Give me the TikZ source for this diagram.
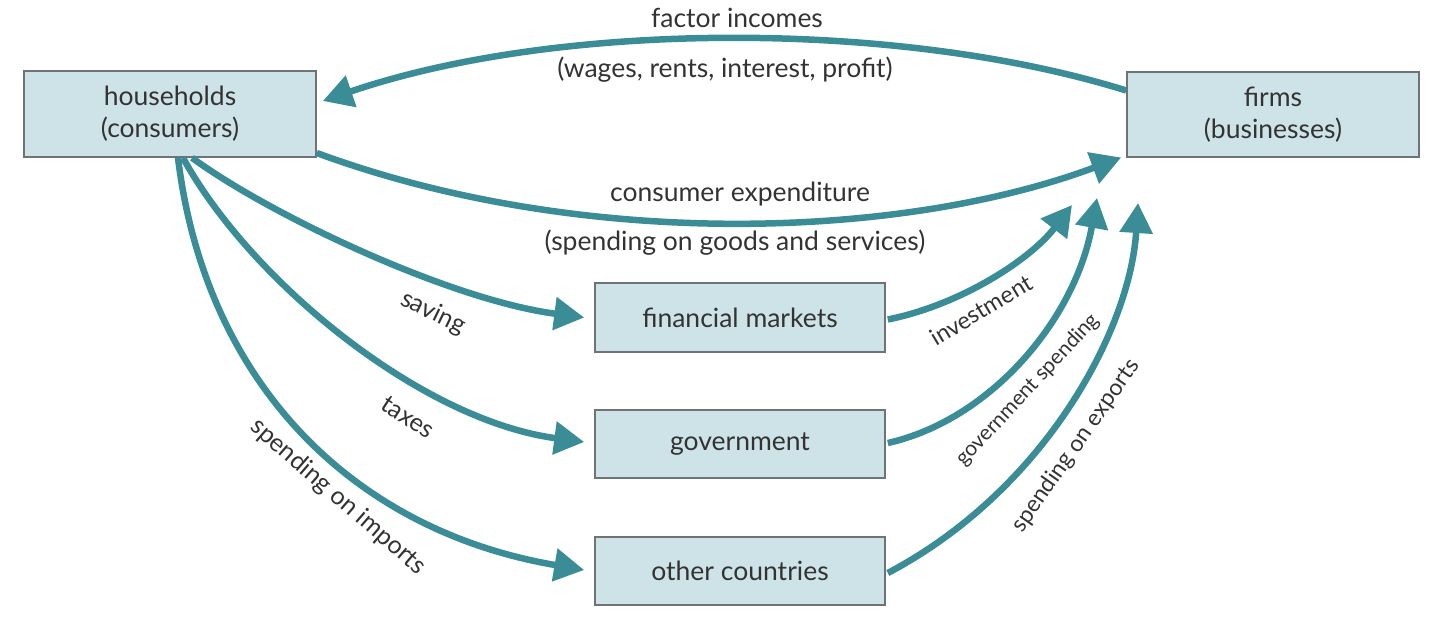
\documentclass[tikz,border=0pt]{standalone}
\usepackage{fontspec}
\setmainfont{Lato}
\usetikzlibrary{arrows.meta,calc}
\definecolor{teal1}{HTML}{3A8C96}
\definecolor{boxfill}{HTML}{CDE3E8}
\definecolor{boxline}{HTML}{6E7376}
\definecolor{txt}{HTML}{333333}
\begin{document}
\begin{tikzpicture}[x=1pt,y=-1pt,
  box/.style={draw=boxline,line width=1.6pt,fill=boxfill,inner sep=0pt,align=center,text=txt,font=\fontsize{26.5}{32}\selectfont},
  lab/.style={text=txt,font=\fontsize{26.5}{30}\selectfont,inner sep=0pt},
  slab/.style={text=txt,font=\fontsize{25}{30}\selectfont,inner sep=0pt},
  flow/.style={draw=teal1,line width=6.5pt,-{Triangle[length=30pt,width=32pt]}}]
\useasboundingbox (0,0) rectangle (1440,633);
\node[box,minimum width=292pt,minimum height=86pt] (hh) at (170,114) {households\\(consumers)};
\node[box,minimum width=292pt,minimum height=85pt] (firms) at (1273,114.5) {firms\\(businesses)};
\node[box,minimum width=290pt,minimum height=69pt] (fm) at (740,317.5) {financial markets};
\node[box,minimum width=290pt,minimum height=68pt] (gov) at (740,444) {government};
\node[box,minimum width=290pt,minimum height=68pt] (oc) at (740,571) {other countries};
\coordinate (tinv) at (1072,205);
\coordinate (tgov) at (1097,198);
\coordinate (texp) at (1138,203);
% flows
\draw[flow] ($(firms.west)+(0,-24)$) .. controls (900,20) and (560,20) .. ($(hh.east)+(6,-13)$);
\draw[flow] ($(hh.east)+(0,39)$) .. controls (580,250) and (900,240) .. ($(firms.west)+(-5,43)$);
\draw[flow] ($(hh.south)+(22,0)$) .. controls (270,215) and (450,300) .. ($(fm.west)+(-10,0)$);
\draw[flow] ($(hh.south)+(13,0)$) .. controls (250,280) and (420,420) .. ($(gov.west)+(-10,-2)$);
\draw[flow] ($(hh.south)+(8,0)$) .. controls (205,380) and (350,530) .. ($(oc.west)+(-10,-1)$);
\draw[flow] ($(fm.east)+(2,2)$) .. controls (960,305) and (1030,260) .. (tinv);
\draw[flow] ($(gov.east)+(2,-1)$) .. controls (990,420) and (1075,320) .. (tgov);
\draw[flow] ($(oc.east)+(2,2)$) .. controls (1045,490) and (1130,330) .. (texp);
% labels
\node[lab] (lfi) at (737,18) {factor incomes};
\node[lab] (lwr) at (725,70) {(wages, rents, interest, profit)};
\node[lab] (lce) at (740,194) {consumer expenditure};
\node[lab] (lsg) at (735,243) {(spending on goods and services)};
\node[slab,rotate=-26] (lsav) at (433,313) {saving};
\node[slab,rotate=-33] (ltax) at (408,417) {taxes};
\node[slab,rotate=-41] (limp) at (338,497) {spending on imports};
\node[slab,rotate=31,font=\fontsize{23.5}{28}\selectfont] (linv) at (981,310) {investment};
\node[slab,rotate=47,font=\fontsize{21}{26}\selectfont] (lgs) at (1028,390) {government spending};
\node[slab,rotate=55,font=\fontsize{23}{28}\selectfont] (lexp) at (1076,446) {spending on exports};
\end{tikzpicture}
\end{document}
